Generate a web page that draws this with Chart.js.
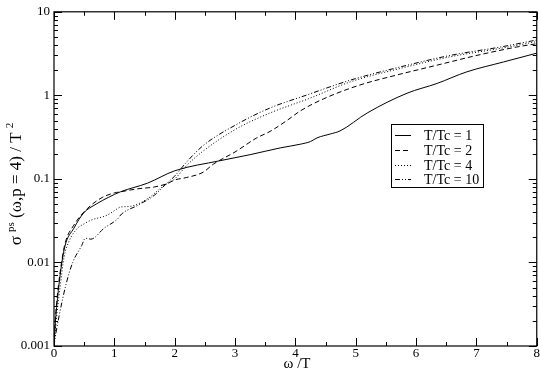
<!DOCTYPE html>
<html>
<head>
<meta charset="utf-8">
<script src="https://cdn.jsdelivr.net/npm/chart.js@4/dist/chart.umd.min.js"></script>
<style>
html,body{margin:0;padding:0;background:#fff;}
#wrap{width:540px;height:373px;position:relative;}
</style>
</head>
<body>
<div id="wrap"><canvas id="c" width="540" height="373"></canvas></div>
<script>
// ---- data ----
const seriesLabels = ["T/Tc = 1", "T/Tc = 2", "T/Tc = 4", "T/Tc = 10"];

const omega1 = [0, 0.02, 0.044, 0.1, 0.18, 0.33, 0.49, 0.7, 0.9, 1.1, 1.55, 2.0, 2.75, 3.25, 3.75, 4.08, 4.25, 4.36, 4.58, 4.74, 5.19, 5.85, 6.35, 6.84, 7.45, 8.0];
const sigma1 = [0.001, 0.0018, 0.0029, 0.0069, 0.0155, 0.0257, 0.039, 0.05, 0.06, 0.070, 0.089, 0.125, 0.165, 0.195, 0.235, 0.26, 0.28, 0.31, 0.345, 0.375, 0.615, 1.06, 1.39, 1.91, 2.51, 3.2];

const omega2 = [0, 0.02, 0.044, 0.1, 0.18, 0.33, 0.55, 0.8, 1.0, 1.1, 1.38, 1.66, 1.88, 2.0, 2.2, 2.47, 2.64, 3.0, 3.36, 3.58, 3.86, 4.08, 4.47, 5.07, 5.68, 6.35, 7.01, 7.67, 8.0];
const sigma2 = [0.001, 0.002, 0.0033, 0.0075, 0.0165, 0.028, 0.044, 0.06, 0.068, 0.07, 0.076, 0.080, 0.088, 0.097, 0.104, 0.12, 0.15, 0.21, 0.31, 0.37, 0.50, 0.65, 0.91, 1.33, 1.75, 2.30, 3.01, 3.79, 4.15];

const omega4 = [0, 0.02, 0.05, 0.1, 0.166, 0.25, 0.39, 0.5, 0.61, 0.88, 1.05, 1.1, 1.27, 1.55, 1.82, 2.0, 2.2, 2.47, 3.03, 3.58, 4.25, 4.91, 5.74, 6.57, 7.4, 8.0];
const sigma4 = [0.001, 0.0015, 0.0025, 0.005, 0.0115, 0.018, 0.0257, 0.029, 0.032, 0.0368, 0.044, 0.046, 0.047, 0.058, 0.083, 0.1, 0.145, 0.215, 0.40, 0.615, 0.93, 1.45, 2.1, 2.9, 3.65, 4.4];

const omega10 = [0, 0.03, 0.1, 0.2, 0.31, 0.46, 0.52, 0.61, 0.83, 1.05, 1.12, 1.38, 1.66, 1.88, 2.0, 2.2, 2.47, 3.03, 3.58, 4.19, 4.91, 5.74, 6.57, 7.4, 8.0];
const sigma10 = [0.001, 0.0014, 0.0026, 0.0055, 0.01, 0.016, 0.0195, 0.019, 0.0257, 0.033, 0.038, 0.048, 0.0635, 0.09, 0.108, 0.16, 0.25, 0.45, 0.706, 1.01, 1.52, 2.19, 3.01, 3.79, 4.6];

const xTickValues = [0, 1, 2, 3, 4, 5, 6, 7, 8];
const yTickValues = [0.001, 0.01, 0.1, 1, 10];
const yTickLabels = ["0.001", "0.01", "0.1", "1", "10"];

const dashes = [[], [5, 3], [1, 2], [5, 2, 1, 2, 1, 2]];
const allOmega = [omega1, omega2, omega4, omega10];
const allSigma = [sigma1, sigma2, sigma4, sigma10];

const SERIF = '"Liberation Serif", "Times New Roman", serif';
Chart.defaults.font.family = SERIF;
Chart.defaults.color = '#000';

const datasets = seriesLabels.map((lab, i) => ({
  label: lab,
  data: allOmega[i].map((x, j) => ({x: x, y: allSigma[i][j]})),
  borderColor: '#000',
  borderWidth: 1,
  borderDash: dashes[i],
  pointRadius: 0,
  fill: false,
  cubicInterpolationMode: 'monotone'
}));

const framePlugin = {
  id: 'frame',
  afterDraw(chart) {
    const ctx = chart.ctx;
    const a = chart.chartArea;
    const xs = chart.scales.x, ys = chart.scales.y;
    ctx.save();
    ctx.strokeStyle = '#000';
    ctx.lineWidth = 1.2;
    ctx.setLineDash([]);
    ctx.strokeRect(a.left, a.top, a.right - a.left, a.bottom - a.top);
    ctx.lineWidth = 1;
    const MAJ = 8, MIN = 4;
    ctx.beginPath();
    for (let v = 0; v <= 8.0001; v += 0.5) {
      const px = Math.round(xs.getPixelForValue(v)) + 0.5;
      const L = (Math.abs(v - Math.round(v)) < 1e-6) ? MAJ : MIN;
      ctx.moveTo(px, a.bottom); ctx.lineTo(px, a.bottom - L);
      ctx.moveTo(px, a.top); ctx.lineTo(px, a.top + L);
    }
    for (let e = -3; e <= 1; e++) {
      for (let m = 1; m <= 9; m++) {
        const v = m * Math.pow(10, e);
        if (v > 10.0001) break;
        const py = Math.round(ys.getPixelForValue(v)) + 0.5;
        const L = m === 1 ? MAJ : MIN;
        ctx.moveTo(a.left, py); ctx.lineTo(a.left + L, py);
        ctx.moveTo(a.right, py); ctx.lineTo(a.right - L, py);
      }
    }
    ctx.stroke();

    // legend
    const bx = 391.5, by = 124.5, bw = 92, bh = 63;
    ctx.fillStyle = '#fff';
    ctx.fillRect(bx, by, bw, bh);
    ctx.lineWidth = 1;
    ctx.strokeRect(bx, by, bw, bh);
    const rows = [135, 150, 165, 179];
    ctx.font = '14px ' + SERIF;
    ctx.fillStyle = '#000';
    ctx.textBaseline = 'middle';
    ctx.textAlign = 'left';
    seriesLabels.forEach((lab, i) => {
      ctx.beginPath();
      ctx.setLineDash(dashes[i]);
      ctx.lineWidth = 1;
      ctx.moveTo(395, rows[i] + 0.5);
      ctx.lineTo(411, rows[i] + 0.5);
      ctx.stroke();
      ctx.setLineDash([]);
      ctx.fillText(lab, 424, rows[i] + 1);
    });

    // x axis title
    ctx.font = '15px ' + SERIF;
    ctx.textAlign = 'center';
    ctx.textBaseline = 'alphabetic';
    ctx.fillText('\u03c9 /T', 297, 368);

    // y axis title, rotated, with superscripts
    const mainF = '17px ' + SERIF, supF = '11px ' + SERIF;
    const pieces = [
      ['\u03c3 ', mainF, 0],
      ['ps', supF, -7],
      [' (\u03c9,p = 4) / T ', mainF, 0],
      ['2', supF, -8]
    ];
    let W = 0;
    pieces.forEach(p => { ctx.font = p[1]; W += ctx.measureText(p[0]).width; });
    ctx.save();
    ctx.translate(21, 184);
    ctx.rotate(-Math.PI / 2);
    ctx.textAlign = 'left';
    let cx = -W / 2;
    pieces.forEach(p => {
      ctx.font = p[1];
      ctx.fillText(p[0], cx, p[2]);
      cx += ctx.measureText(p[0]).width;
    });
    ctx.restore();
    ctx.restore();
  }
};

new Chart(document.getElementById('c').getContext('2d'), {
  type: 'line',
  data: {datasets: datasets},
  options: {
    responsive: false,
    animation: false,
    devicePixelRatio: 1,
    layout: {padding: {top: 6, right: 3, left: 0, bottom: 0}},
    plugins: {legend: {display: false}, tooltip: {enabled: false}},
    scales: {
      x: {
        type: 'linear', min: 0, max: 8,
        afterBuildTicks: s => { s.ticks = xTickValues.map(v => ({value: v})); },
        ticks: {font: {size: 13}, color: '#000', padding: 0, maxRotation: 0, autoSkip: false,
                callback: v => String(v)},
        grid: {display: false, drawTicks: false},
        border: {display: false},
        afterFit: s => { s.height = 27; }
      },
      y: {
        type: 'logarithmic', min: 0.001, max: 10,
        afterBuildTicks: s => { s.ticks = yTickValues.map(v => ({value: v})); },
        ticks: {font: {size: 13}, color: '#000', padding: 4, autoSkip: false,
                callback: v => {
                  const i = yTickValues.findIndex(t => Math.abs(Math.log10(t) - Math.log10(v)) < 1e-6);
                  return i >= 0 ? yTickLabels[i] : '';
                }},
        grid: {display: false, drawTicks: false},
        border: {display: false},
        afterFit: s => { s.width = 54; }
      }
    }
  },
  plugins: [framePlugin]
});
</script>
</body>
</html>
